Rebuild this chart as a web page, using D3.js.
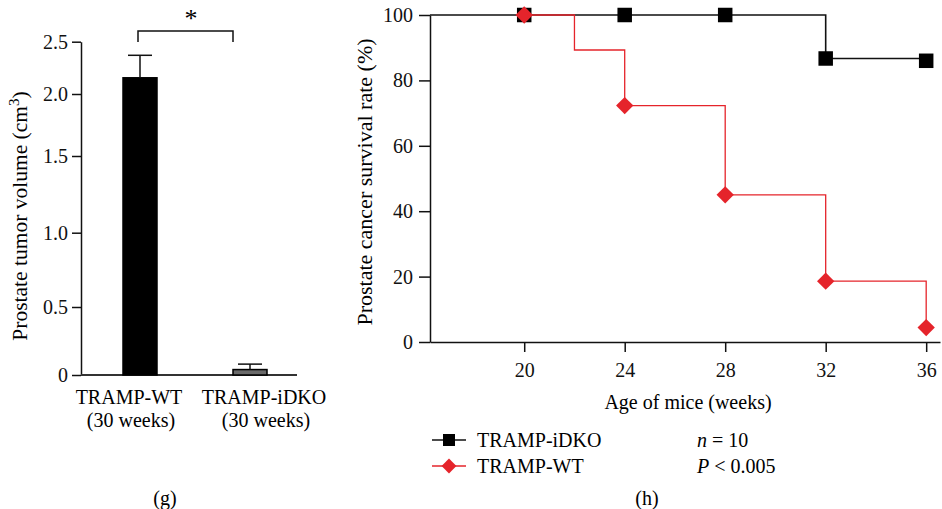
<!DOCTYPE html>
<html>
<head>
<meta charset="utf-8">
<script src="https://cdn.jsdelivr.net/npm/d3@7"></script>
<style>
  body { margin: 0; background: #fff; }
  svg { display: block; font-family: "Liberation Serif", "DejaVu Serif", serif; }
  .axis text { font-family: "Liberation Serif", serif; font-size: 20px; fill: #111; }
  .axis path, .axis line { stroke: #111; stroke-width: 1.5px; }
</style>
</head>
<body>
<div id="chart"></div>
<script>
// panel (g): tumour volume at 30 weeks
const groups = ["TRAMP-WT", "TRAMP-iDKO"];
const groupSub = ["(30 weeks)", "(30 weeks)"];
const volumeMean = [2.155, 0.04];
const volumeErr = [0.215, 0.04];
const volumeTicks = [0, 0.5, 1.0, 1.5, 2.0, 2.5];

// panel (h): survival curves
const weeks = [20, 24, 28, 32, 36];
const survivalTicks = [0, 20, 40, 60, 80, 100];
const idkoSurvival = [100, 100, 100, 86.7, 86.0];
const wtSurvival = [100, 72.3, 45.0, 18.6, 4.4];
// steps of the WT curve (incl. the drop at week 22)
const wtStepWeeks = [20, 22, 24, 28, 32, 36];
const wtStepSurvival = [100, 89.3, 72.3, 45.0, 18.6, 4.4];
const idkoStepWeeks = [16.25, 32, 36];
const idkoStepSurvival = [100, 86.7, 86.7];

const width = 942, height = 509;
const red = "#e5242b";
const serif = "'Liberation Serif', 'DejaVu Serif', serif";

const svg = d3.select("#chart").append("svg")
    .attr("width", width)
    .attr("height", height);

// ---------- panel (g) ----------
// the published axis is not evenly spaced, so use a piecewise linear scale
const yL = d3.scaleLinear()
    .domain(volumeTicks)
    .range([375, 307, 232.7, 156, 94, 41.7]);
const xL = d3.scalePoint()
    .domain(groups)
    .range([140, 250]);
const barW = 34;

svg.append("g")
    .classed("axis", true)
    .attr("transform", "translate(81,0)")
    .call(d3.axisLeft(yL).tickValues(volumeTicks).tickSize(9).tickSizeOuter(0)
        .tickFormat(d => d === 0 ? "0" : d3.format(".1f")(d)))
    .attr("font-family", serif)
    .attr("font-size", 20)
    .call(g => g.selectAll(".tick text").attr("dx", "-1"));

svg.append("line")
    .attr("x1", 81).attr("x2", 297)
    .attr("y1", yL(0)).attr("y2", yL(0))
    .attr("stroke", "#333").attr("stroke-width", 2);

svg.selectAll(".bar")
    .data(groups)
    .join("rect")
    .attr("x", d => xL(d) - barW / 2)
    .attr("y", (d, i) => yL(volumeMean[i]))
    .attr("width", barW)
    .attr("height", (d, i) => yL(0) - yL(volumeMean[i]))
    .attr("fill", (d, i) => i === 0 ? "#000" : "#6a6a6a")
    .attr("stroke", "#000")
    .attr("stroke-width", 1.5);

const err = svg.append("g").attr("stroke", "#111").attr("stroke-width", 1.5);
groups.forEach((d, i) => {
    const top = yL(volumeMean[i] + volumeErr[i]);
    err.append("line")
        .attr("x1", xL(d)).attr("x2", xL(d))
        .attr("y1", yL(volumeMean[i])).attr("y2", top);
    err.append("line")
        .attr("x1", xL(d) - 12).attr("x2", xL(d) + 12)
        .attr("y1", top).attr("y2", top);
});

const labelShift = [-11, 14];
groups.forEach((d, i) => {
    svg.append("text")
        .attr("x", xL(d) + labelShift[i]).attr("y", 404)
        .attr("text-anchor", "middle")
        .attr("font-size", 20)
        .text(d);
    svg.append("text")
        .attr("x", xL(d) + labelShift[i] + 2).attr("y", 427)
        .attr("text-anchor", "middle")
        .attr("font-size", 20)
        .text(groupSub[i]);
});

// significance bracket
svg.append("path")
    .attr("d", `M${xL(groups[0]) - 2},42V31H${xL(groups[1]) - 17}V42`)
    .attr("fill", "none")
    .attr("stroke", "#111")
    .attr("stroke-width", 1.5);
svg.append("text")
    .attr("x", (xL(groups[0]) + xL(groups[1])) / 2 - 4).attr("y", 27)
    .attr("text-anchor", "middle")
    .attr("font-size", 26)
    .text("*");

const yLabL = svg.append("text")
    .attr("transform", "translate(27,216) rotate(-90)")
    .attr("text-anchor", "middle")
    .attr("font-size", 21.5)
    .text("Prostate tumor volume (cm");
yLabL.append("tspan").attr("dy", -8).attr("font-size", 15).text("3");
yLabL.append("tspan").attr("dy", 8).text(")");

svg.append("text")
    .attr("x", 165).attr("y", 505)
    .attr("text-anchor", "middle")
    .attr("font-size", 20)
    .text("(g)");

// ---------- panel (h) ----------
const xR = d3.scaleLinear().domain([16.25, 36.55]).range([430, 940]);
const yR = d3.scaleLinear().domain([0, 100]).range([342, 15]);

svg.append("g")
    .classed("axis", true)
    .attr("transform", `translate(0,${yR(0)})`)
    .call(d3.axisBottom(xR).tickValues(weeks).tickSize(10).tickSizeOuter(0))
    .attr("font-family", serif)
    .attr("font-size", 20)
    .call(g => g.selectAll(".tick text").attr("dy", "1.1em"));

svg.append("g")
    .classed("axis", true)
    .attr("transform", `translate(${xR(16.25)},0)`)
    .call(d3.axisLeft(yR).tickValues(survivalTicks).tickSize(11).tickSizeOuter(0))
    .attr("font-family", serif)
    .attr("font-size", 20)
    .call(g => g.selectAll(".tick text").attr("dx", "-3"));

const step = d3.line()
    .x(d => xR(d[0]))
    .y(d => yR(d[1]))
    .curve(d3.curveStepAfter);

svg.append("path")
    .datum(idkoStepWeeks.map((w, i) => [w, idkoStepSurvival[i]]))
    .attr("fill", "none")
    .attr("stroke", "#111")
    .attr("stroke-width", 1.6)
    .attr("d", step);

svg.append("path")
    .datum(wtStepWeeks.map((w, i) => [w, wtStepSurvival[i]]))
    .attr("fill", "none")
    .attr("stroke", red)
    .attr("stroke-width", 1.3)
    .attr("d", step);

const sq = 14.5;
svg.selectAll(".sq")
    .data(weeks)
    .join("rect")
    .attr("x", d => xR(d) - sq / 2)
    .attr("y", (d, i) => yR(idkoSurvival[i]) - sq / 2)
    .attr("width", sq).attr("height", sq)
    .attr("fill", "#000");

const diamond = d3.symbol().type(d3.symbolSquare).size(150);
svg.selectAll(".dm")
    .data(weeks)
    .join("path")
    .attr("d", diamond)
    .attr("transform", (d, i) => `translate(${xR(d)},${yR(wtSurvival[i])}) rotate(45)`)
    .attr("fill", red);

svg.append("text")
    .attr("x", 688).attr("y", 409)
    .attr("text-anchor", "middle")
    .attr("font-size", 20)
    .text("Age of mice (weeks)");

svg.append("text")
    .attr("transform", "translate(372,182) rotate(-90)")
    .attr("text-anchor", "middle")
    .attr("font-size", 22)
    .text("Prostate cancer survival rate (%)");

// legend
const legend = svg.append("g").attr("font-size", 20);
legend.append("line").attr("x1", 432).attr("x2", 466).attr("y1", 440).attr("y2", 440)
    .attr("stroke", "#111").attr("stroke-width", 1.6);
legend.append("rect").attr("x", 443).attr("y", 434).attr("width", 12).attr("height", 12).attr("fill", "#000");
legend.append("text").attr("x", 477).attr("y", 447).text("TRAMP-iDKO");
legend.append("line").attr("x1", 432).attr("x2", 466).attr("y1", 466).attr("y2", 466)
    .attr("stroke", red).attr("stroke-width", 1.3);
legend.append("path").attr("d", d3.symbol().type(d3.symbolSquare).size(110))
    .attr("transform", "translate(449,466) rotate(45)").attr("fill", red);
legend.append("text").attr("x", 477).attr("y", 473).text("TRAMP-WT");

const nTxt = legend.append("text").attr("x", 697).attr("y", 447);
nTxt.append("tspan").attr("font-style", "italic").text("n");
nTxt.append("tspan").text(" = 10");
const pTxt = legend.append("text").attr("x", 697).attr("y", 473);
pTxt.append("tspan").attr("font-style", "italic").text("P");
pTxt.append("tspan").text(" < 0.005");

svg.append("text")
    .attr("x", 647).attr("y", 505)
    .attr("text-anchor", "middle")
    .attr("font-size", 20)
    .text("(h)");
</script>
</body>
</html>
